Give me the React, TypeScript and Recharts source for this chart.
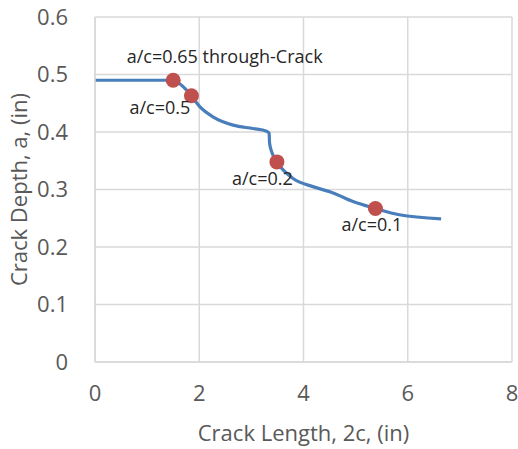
import React from 'react';
import { ComposedChart, Line, Scatter, XAxis, YAxis, CartesianGrid, LabelList } from 'recharts';

// crack growth path
const crackLength = [0, 0.5, 1.0, 1.37, 1.5, 1.7, 1.85, 2.01, 2.27, 2.65, 3.03, 3.29, 3.34, 3.35, 3.4, 3.49, 3.8, 4.18, 4.57, 4.95, 5.38, 5.84, 6.64];
const crackDepth = [0.49, 0.49, 0.49, 0.49, 0.49, 0.478, 0.463, 0.444, 0.426, 0.412, 0.406, 0.4015, 0.398, 0.38, 0.363, 0.348, 0.319, 0.305, 0.294, 0.279, 0.267, 0.256, 0.249];

// aspect-ratio transition markers
const markerLength = [1.5, 1.85, 3.49, 5.38];
const markerDepth = [0.49, 0.463, 0.348, 0.267];
const markerLabels = ['a/c=0.65 through-Crack', 'a/c=0.5', 'a/c=0.2', 'a/c=0.1'];

const xTicks = [0, 2, 4, 6, 8];
const yTicks = [0, 0.1, 0.2, 0.3, 0.4, 0.5, 0.6];

const curve = crackLength.map((x, i) => ({ x, y: crackDepth[i] }));
const markers = markerLength.map((x, i) => ({ x, y: markerDepth[i], label: markerLabels[i] }));

// label offset from marker centre
const labelOffsets = [
  { dx: 56, dy: -20 },
  { dx: -27, dy: 16 },
  { dx: -10, dy: 21 },
  { dx: 1, dy: 20 },
];

const FONT = '"Open Sans", sans-serif';
const GRAY = '#595959';

const MarkerLabel = (props: any) => {
  const { x, y, value, index } = props;
  const off = labelOffsets[index] || { dx: 0, dy: 0 };
  return (
    <text
      x={x + off.dx}
      y={y + off.dy}
      textAnchor="middle"
      dominantBaseline="central"
      fontFamily={FONT}
      fontSize={18}
      fill="#262626"
    >
      {value}
    </text>
  );
};

const Dot = (props: any) => {
  const { cx, cy } = props;
  return <circle cx={cx} cy={cy} r={7.5} fill="#c0504d" />;
};

export default function App() {
  return (
    <div style={{ position: 'absolute', left: 0, top: 0, width: 518, height: 449, background: '#fff' }}>
      <ComposedChart width={518} height={449} margin={{ top: 17, right: 6, bottom: 0, left: 0 }}>
        <CartesianGrid stroke="#d9d9d9" strokeWidth={1.5} />
        <XAxis
          dataKey="x"
          type="number"
          domain={[0, 8]}
          ticks={xTicks}
          tickLine={false}
          axisLine={{ stroke: '#d9d9d9', strokeWidth: 1.5 }}
          tick={{ fill: GRAY, fontFamily: FONT, fontSize: 22 }}
          tickMargin={17}
          height={87}
          label={{ value: 'Crack Length, 2c, (in)', position: 'insideBottom', offset: 8, fill: GRAY, fontFamily: FONT, fontSize: 22 }}
        />
        <YAxis
          dataKey="y"
          type="number"
          domain={[0, 0.6]}
          ticks={yTicks}
          tickLine={false}
          axisLine={{ stroke: '#d9d9d9', strokeWidth: 1.5 }}
          tick={{ fill: GRAY, fontFamily: FONT, fontSize: 22 }}
          tickMargin={21}
          width={95}
          label={{ value: 'Crack Depth, a, (in)', angle: -90, position: 'insideLeft', offset: 19, fill: GRAY, fontFamily: FONT, fontSize: 22, style: { textAnchor: 'middle' } }}
        />
        <Line
          data={curve}
          dataKey="y"
          type="monotone"
          stroke="#4a7ebb"
          strokeWidth={3.2}
          dot={false}
          isAnimationActive={false}
        />
        <Scatter data={markers} dataKey="y" shape={<Dot />} isAnimationActive={false}>
          <LabelList dataKey="label" content={<MarkerLabel />} />
        </Scatter>
      </ComposedChart>
    </div>
  );
}
